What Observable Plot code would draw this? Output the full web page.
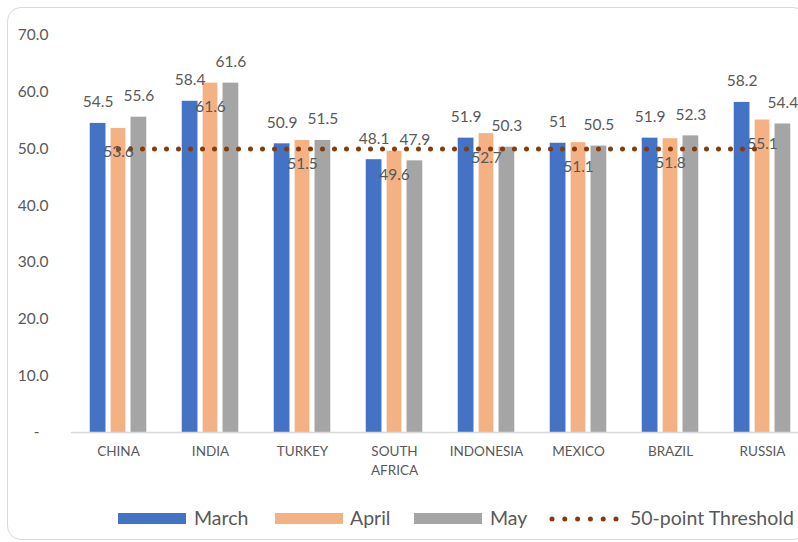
<!DOCTYPE html>
<html>
<head>
<meta charset="utf-8">
<script src="https://cdn.jsdelivr.net/npm/d3@7"></script>
<script src="https://cdn.jsdelivr.net/npm/@observablehq/plot@0.6"></script>
<style>
  html, body { margin: 0; padding: 0; background: #fff; overflow: hidden; }
  #wrap { position: relative; width: 798px; height: 542px; overflow: hidden; font-family: Lato, sans-serif; color: #595959; }
  #box { position: absolute; left: 7px; top: 7px; width: 800px; height: 533px; border: 1.5px solid #d9d9d9; border-radius: 14px; box-sizing: border-box; }
  #chart { position: absolute; left: 0; top: 0; width: 810px; }
  #chart svg { max-width: none !important; }
  .sw { position: absolute; top: 513px; width: 68px; height: 11px; }
  .lt { position: absolute; top: 507px; font-size: 19.5px; line-height: 22px; white-space: nowrap; }
</style>
</head>
<body>
<div id="wrap">
  <div id="box"></div>
  <div id="chart"></div>
  <div id="legend"></div>
</div>
<script>
// ---- data ----
const countries = ["CHINA", "INDIA", "TURKEY", "SOUTH AFRICA", "INDONESIA", "MEXICO", "BRAZIL", "RUSSIA"];
const countryLabels = ["CHINA", "INDIA", "TURKEY", "SOUTH\nAFRICA", "INDONESIA", "MEXICO", "BRAZIL", "RUSSIA"];
const months = ["March", "April", "May"];
const march = [54.5, 58.4, 50.9, 48.1, 51.9, 51, 51.9, 58.2];
const april = [53.6, 61.6, 51.5, 49.6, 52.7, 51.1, 51.8, 55.1];
const may   = [55.6, 61.6, 51.5, 47.9, 50.3, 50.5, 52.3, 54.4];
const threshold = 50;
const thresholdLabel = "50-point Threshold";
const yTicks = [0, 10, 20, 30, 40, 50, 60, 70];

// ---- styles ----
const colors = ["#4472C4", "#F4B183", "#A5A5A5"];
const thresholdColor = "#843C0C";
const textColor = "#595959";

const W = 810, H = 500, mL = 71, mR = 1, mT = 35, mB = 68;
const bw = (W - mL - mR) / countries.length;
const pitch = 20.4;
const barW = [16, 15, 16];
const series = [march, april, may];

const rows = months.map((m, i) => countries.map((c, j) => ({country: c, month: m, value: series[i][j]})));
const thresholdRows = countries.map(c => ({country: c, value: threshold}));
const labelRows = countries.map((c, i) => ({country: c, label: countryLabels[i]}));

const marks = [];
rows.forEach((data, i) => {
  const center = bw / 2 + (i - 1) * pitch;
  marks.push(Plot.barY(data, {
    x: "country", y: "value", fill: colors[i],
    insetLeft: center - barW[i] / 2,
    insetRight: bw - center - barW[i] / 2
  }));
});
marks.push(Plot.ruleY([0], {stroke: "#d9d9d9", strokeWidth: 1.5}));
marks.push(Plot.lineY(thresholdRows, {
  x: "country", y: "value", stroke: thresholdColor, strokeWidth: 5,
  strokeDasharray: "0 12", strokeLinecap: "round"
}));
rows.forEach((data, i) => {
  marks.push(Plot.text(data, {
    x: "country", y: "value", text: d => String(d.value),
    dx: (i - 1) * pitch, dy: i === 1 ? 24 : -21,
    fill: textColor, fontSize: 15.5
  }));
});
marks.push(Plot.text(labelRows, {
  x: "country", y: () => 0, text: "label", lineAnchor: "top", dy: 10.5,
  fontSize: 13.5, lineHeight: 1.4, fill: textColor
}));
marks.push(Plot.text(yTicks.filter(t => t > 0), {
  frameAnchor: "left", y: d => d, text: d => d.toFixed(1),
  textAnchor: "end", dx: -23, fontSize: 15.5, fill: textColor
}));
marks.push(Plot.text(yTicks.filter(t => t === 0), {
  frameAnchor: "left", y: d => d, text: () => "-",
  textAnchor: "end", dx: -32, fontSize: 15.5, fill: textColor
}));

const chart = Plot.plot({
  width: W, height: H,
  marginLeft: mL, marginRight: mR, marginTop: mT, marginBottom: mB,
  x: {type: "band", domain: countries, paddingInner: 0, paddingOuter: 0, axis: null},
  y: {domain: [0, 70], axis: null},
  style: {fontFamily: "Lato, sans-serif", background: "transparent", overflow: "visible", color: textColor, maxWidth: "none"},
  marks
});
document.getElementById("chart").appendChild(chart);

// ---- legend ----
const legend = document.getElementById("legend");
const items = [
  {name: months[0], color: colors[0], sx: 118, tx: 194},
  {name: months[1], color: colors[1], sx: 275, tx: 350},
  {name: months[2], color: colors[2], sx: 414, tx: 490}
];
items.forEach(it => {
  const s = document.createElement("div");
  s.className = "sw"; s.style.left = it.sx + "px"; s.style.background = it.color;
  legend.appendChild(s);
  const t = document.createElement("div");
  t.className = "lt"; t.style.left = it.tx + "px"; t.textContent = it.name;
  legend.appendChild(t);
});
const ns = "http://www.w3.org/2000/svg";
const ls = document.createElementNS(ns, "svg");
ls.setAttribute("width", 80); ls.setAttribute("height", 12);
ls.style.position = "absolute"; ls.style.left = "546px"; ls.style.top = "513px";
const ln = document.createElementNS(ns, "line");
ln.setAttribute("x1", 6); ln.setAttribute("x2", 72); ln.setAttribute("y1", 6); ln.setAttribute("y2", 6);
ln.setAttribute("stroke", thresholdColor); ln.setAttribute("stroke-width", 5);
ln.setAttribute("stroke-dasharray", "0 12.8"); ln.setAttribute("stroke-linecap", "round");
ls.appendChild(ln);
legend.appendChild(ls);
const tt = document.createElement("div");
tt.className = "lt"; tt.style.left = "630px"; tt.textContent = thresholdLabel;
legend.appendChild(tt);
</script>
</body>
</html>
